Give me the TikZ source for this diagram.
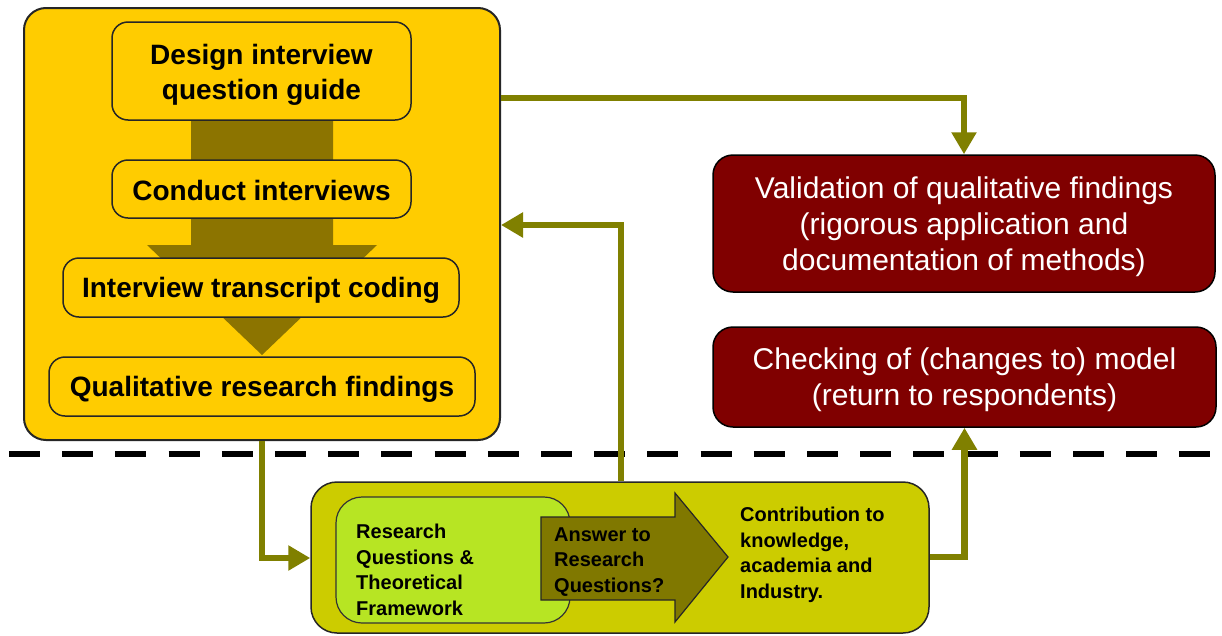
\documentclass[tikz,border=0pt]{standalone}
\usepackage{fontspec}
\setmainfont{Liberation Sans}
\usetikzlibrary{arrows.meta}
\definecolor{gold}{RGB}{255,204,0}
\definecolor{flowbrown}{RGB}{140,116,0}
\definecolor{olivebox}{RGB}{204,204,0}
\definecolor{limebox}{RGB}{183,229,35}
\definecolor{olivearrow}{RGB}{128,120,0}
\definecolor{linkolive}{RGB}{128,128,0}
\definecolor{maroon}{RGB}{128,0,0}
\tikzset{
  outerbox/.style={draw=black!85, line width=2pt, fill=gold, rounded corners=22pt, inner sep=0pt},
  stepbox/.style={draw=black!85, line width=1.5pt, fill=gold, rounded corners=16pt, inner sep=0pt},
  steptext/.style={inner sep=0pt, align=center, font=\fontsize{28}{35}\selectfont\bfseries},
  redbox/.style={draw=black, line width=1.5pt, fill=maroon, rounded corners=20pt, inner sep=0pt},
  redtext/.style={inner sep=0pt, align=center, text=white, font=\fontsize{30}{36}\selectfont},
  lowbox/.style={draw=black!85, line width=1.5pt, fill=olivebox, rounded corners=26pt, inner sep=0pt},
  limeframe/.style={draw=black!80, line width=1.2pt, fill=limebox, rounded corners=26pt, inner sep=0pt},
  smalltext/.style={align=left, inner sep=0pt, font=\fontsize{20}{25.5}\selectfont\bfseries},
  conn/.style={draw=linkolive, line width=6.5pt, -{Triangle[length=22pt,width=24pt]}},
}
\begin{document}
\begin{tikzpicture}[x=1pt,y=-1pt]
\useasboundingbox (0,0) rectangle (1222,635);
\fill[white] (0,0) rectangle (1222,635);

% separating dashed line
\draw[line width=6.5pt, dash pattern=on 31pt off 22.2pt] (9,454) -- (1212,454);

% left panel: interview workflow
\node[outerbox, minimum width=476pt, minimum height=432pt] (big) at (262,224) {};
\fill[flowbrown] (191,120) -- (333,120) -- (333,245) -- (377,245) -- (262,355)
  -- (147,245) -- (191,245) -- cycle;
\node[stepbox, minimum width=299pt, minimum height=98pt] (design) at (261.5,71) {};
\node[stepbox, minimum width=299pt, minimum height=58pt] (conduct) at (261.5,189) {};
\node[stepbox, minimum width=396pt, minimum height=59pt] (coding) at (261,287.5) {};
\node[stepbox, minimum width=426pt, minimum height=59pt] (findings) at (262,386.5) {};
\node[steptext] (designtext) at ([yshift=-4pt]design.center) {Design interview\\question guide};
\node[steptext] (conducttext) at ([yshift=-1pt]conduct.center) {Conduct interviews};
\node[steptext] (codingtext) at ([yshift=-3pt]coding.center) {Interview transcript coding};
\node[steptext] (findingstext) at ([yshift=-3pt]findings.center) {Qualitative research findings};

% right panel: validation steps
\node[redbox, minimum width=502pt, minimum height=137pt] (valid) at (964,223.5) {};
\node[redtext] (validtext) at ([yshift=-3pt]valid.center)
  {Validation of qualitative findings\\(rigorous application and\\documentation of methods)};
\node[redbox, minimum width=503pt, minimum height=100pt] (check) at (964.5,377) {};
\node[redtext] (checktext) at ([yshift=-3pt]check.center)
  {Checking of (changes to) model\\(return to respondents)};

% bottom panel: research questions and contribution
\node[lowbox, minimum width=618pt, minimum height=151pt] (bottom) at (620,557.5) {};
\node[limeframe, minimum width=234pt, minimum height=126pt] (rq) at (453,560) {};
\node[smalltext, anchor=west] (rqtext) at (356,570)
  {Research\\Questions \&\\Theoretical\\Framework};
\filldraw[fill=olivearrow, draw=black!85, line width=1.2pt]
  (541,517) -- (675,517) -- (675,493) -- (728,557) -- (675,622) -- (675,600)
  -- (541,600) -- cycle;
\node[smalltext, anchor=west] (answer) at (554,562)
  {Answer to\\Research\\Questions?};
\node[smalltext, anchor=west] (contrib) at (740,555)
  {Contribution to\\knowledge,\\academia and\\Industry.};

% connectors
\coordinate (topy) at (0,98);
\coordinate (backy) at (621,225);
\coordinate (downy) at (262,558);
\coordinate (righty) at (0,557);
\draw[conn] (big.east |- topy) -| (valid.north);
\draw[conn] (bottom.north -| backy) |- (big.east |- backy);
\draw[conn] (big.south -| downy) |- (bottom.west |- downy);
\draw[conn] (bottom.east |- righty) -| (check.south);
\end{tikzpicture}
\end{document}
